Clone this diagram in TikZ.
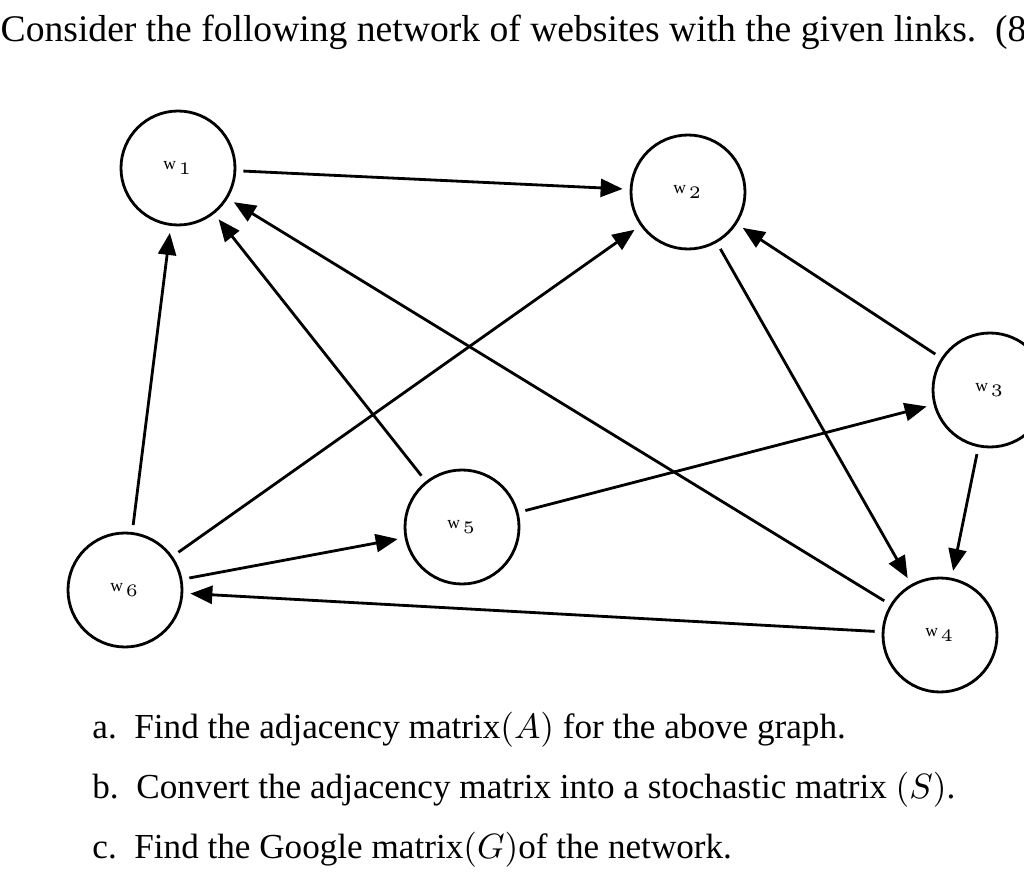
\documentclass[tikz,border=0pt]{standalone}
\usepackage{fontspec}
\setmainfont{Liberation Serif}
\usetikzlibrary{arrows.meta}
\tikzset{
site/.style={draw, circle, thick, minimum size=1.14cm, inner sep=0pt, font=\fontsize{5}{6}\selectfont}, % the website circles
link/.style={thick, -{Triangle[length=2.2mm, width=1.8mm]}, shorten >=2pt, shorten <=2pt}, % the links
question/.style={anchor=west, font=\fontsize{10}{12}\selectfont}, % the question lines
}

\begin{document}
\begin{tikzpicture}[x=0.1mm, y=-0.1mm]
    \useasboundingbox (0,0) rectangle (1024,880);
    \clip (0,0) rectangle (1024,880);
    \node[anchor=west, font=\fontsize{10.7}{12}\selectfont, inner sep=0pt] (title) at (0,32) {Consider the following network of websites with the given links.\ \ (8};

    \node[site] (w1) at (178,168) {w\,$_1$};
    \node[site] (w2) at (688,192) {w\,$_2$};
    \node[site] (w3) at (990,390) {w\,$_3$};
    \node[site] (w4) at (940,635) {w\,$_4$};
    \node[site] (w5) at (462,527) {w\,$_5$};
    \node[site] (w6) at (125,590) {w\,$_6$};

    \draw[link] (w1) -- (w2);
    \draw[link] (w6) -- (w1);
    \draw[link] (w5) -- (w1);
    \draw[link] (w4) -- (w1);
    \draw[link] (w6) -- (w2);
    \draw[link] (w2) -- (w4);
    \draw[link] (w3) -- (w2);
    \draw[link] (w5) -- (w3);
    \draw[link] (w3) -- (w4);
    \draw[link] (w6) -- (w5);
    \draw[link] (w4) -- (w6);

    \node[question] (qa) at (80,730) {a.\ \ Find the adjacency matrix$(A)$ for the above graph.};
    \node[question] (qb) at (80,790) {b.\ \ Convert the adjacency matrix into a stochastic matrix $(S)$.};
    \node[question] (qc) at (80,850) {c.\ \ Find the Google matrix$(G)$of the network.};
\end{tikzpicture}
\end{document}
